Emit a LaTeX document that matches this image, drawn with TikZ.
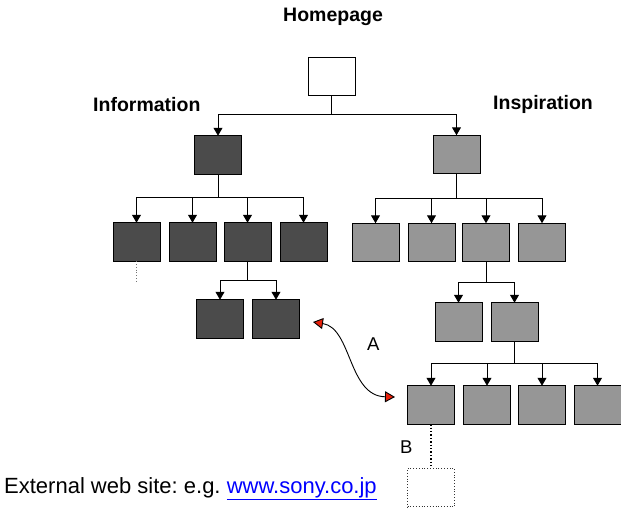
\documentclass[tikz,border=0pt]{standalone}
\usepackage{fontspec}
\setmainfont{Liberation Sans}
\usetikzlibrary{arrows.meta}
\frenchspacing
\definecolor{darkbox}{HTML}{4B4B4B}
\definecolor{lightbox}{HTML}{969696}
\definecolor{linkblue}{HTML}{0000FF}
\definecolor{redtip}{HTML}{E8200A}
\tikzset{
  pagebox/.style={draw=black, line width=1pt, minimum width=47pt, minimum height=38.5pt, inner sep=0pt, outer sep=0pt},
  darkpage/.style={pagebox, fill=darkbox},
  lightpage/.style={pagebox, fill=lightbox},
  whitepage/.style={pagebox, fill=white},
  ghostpage/.style={pagebox, draw=black!80, line width=0.8pt, dotted, fill=white},
  conn/.style={line width=1pt, -{Triangle[width=9pt,length=8pt]}},
  headlabel/.style={inner sep=0pt, anchor=base west, font=\fontsize{19.5}{22}\selectfont\bfseries},
  smalllabel/.style={inner sep=0pt, anchor=base west, font=\fontsize{18.5}{21}\selectfont},
  linkarrow/.style={line width=0.9pt, {Triangle[width=11pt,length=10pt,fill=redtip]}-{Triangle[width=11pt,length=10pt,fill=redtip]}}
}
\begin{document}
\begin{tikzpicture}[x=1pt, y=-1pt]
\useasboundingbox (0,0) rectangle (621,511);

% labels
\node[headlabel] (lhome) at (283,22) {Homepage};
\node[headlabel] (linfo) at (93,111) {Information};
\node[headlabel] (linsp) at (493,110) {Inspiration};

% homepage
\node[whitepage] (hp) at (331.5,76.5) {};

% information branch
\node[darkpage] (info) at (218,155) {};
\node[darkpage] (i1) at (136.5,242) {};
\node[darkpage] (i2) at (192.5,242) {};
\node[darkpage] (i3) at (247.5,242) {};
\node[darkpage] (i4) at (303.5,242) {};
\node[darkpage] (i31) at (220,319) {};
\node[darkpage] (i32) at (276,319) {};
\coordinate (i1end) at (136.5,283);

% inspiration branch
\node[lightpage] (insp) at (456.5,154.5) {};
\node[lightpage] (s1) at (375.5,242.5) {};
\node[lightpage] (s2) at (431.5,242.5) {};
\node[lightpage] (s3) at (486,242.5) {};
\node[lightpage] (s4) at (542,242.5) {};
\node[lightpage] (s31) at (458.5,322) {};
\node[lightpage] (s32) at (514.5,322) {};
\node[lightpage] (b1) at (431,405) {};
\node[lightpage] (b2) at (487,405) {};
\node[lightpage] (b3) at (542,405) {};
\node[lightpage] (b4) at (597.5,405) {};

% external page
\node[ghostpage] (ext) at (431,487.5) {};

% connectors
\draw[conn] (hp.south) -- ++(0,19) -| (info.north);
\draw[conn] (hp.south) -- ++(0,19) -| (insp.north);

\foreach \c in {i1,i2,i3,i4} \draw[conn] (info.south) -- ++(0,23.5) -| (\c.north);
\foreach \c in {i31,i32} \draw[conn] (i3.south) -- ++(0,19) -| (\c.north);

\foreach \c in {s1,s2,s3,s4} \draw[conn] (insp.south) -- ++(0,24.5) -| (\c.north);
\foreach \c in {s31,s32} \draw[conn] (s3.south) -- ++(0,20.5) -| (\c.north);
\foreach \c in {b1,b2,b3,b4} \draw[conn] (s32.south) -- ++(0,22) -| (\c.north);

\draw[line width=0.8pt, dotted, draw=black!55] (i1.south) -- (i1end);
\draw[line width=1.4pt, dotted] (b1.south) -- (ext.north);

% cross link A
\coordinate (atop) at (313,322);
\coordinate (abot) at (395,397);
\draw[linkarrow] (atop) .. controls (352,328) and (348,396) .. (abot);
\node[smalllabel] (la) at (367,350) {A};
\node[smalllabel] (lb) at (400,453) {B};

% external text
\node[inner sep=0pt, anchor=base west, font=\fontsize{22}{25}\selectfont] (lext) at (4,493)
  {External web site: e.g. \textcolor{linkblue}{\underline{www.sony.co.jp}}};
\end{tikzpicture}
\end{document}
